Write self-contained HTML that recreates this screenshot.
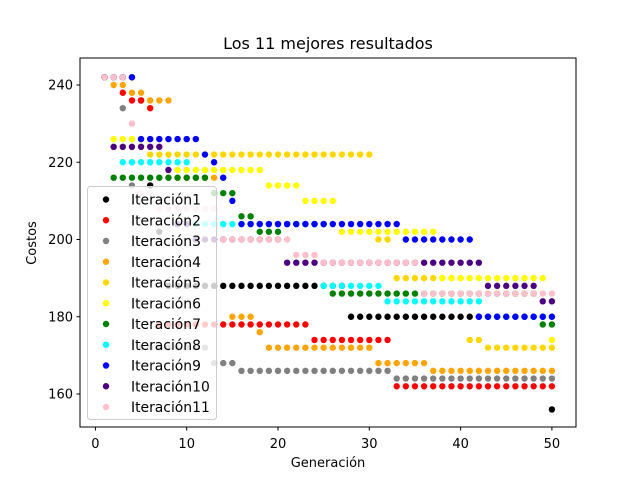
<!DOCTYPE html>
<html><head><meta charset="utf-8"><style>
html,body{margin:0;padding:0;background:#fff;}
svg{display:block;font-family:"DejaVu Sans","Liberation Sans",sans-serif;}
</style></head><body>
<svg id="chart" width="640" height="480" viewBox="0 0 640 480">
<rect x="0" y="0" width="640" height="480" fill="#fff"/>
<text x="328" y="49" font-size="16" text-anchor="middle">Los 11 mejores resultados</text>
<g id="marks"></g>
<rect x="80" y="58" width="496" height="369" fill="none" stroke="#000" stroke-width="1"/>
<g id="axes"></g>
<text x="328" y="467" font-size="13" text-anchor="middle">Generación</text>
<text x="36" y="243" font-size="13" text-anchor="middle" transform="rotate(-90 36 243)">Costos</text>
<g id="legend"></g>
</svg>
<script>
const seriesNames = ["Iteración1","Iteración2","Iteración3","Iteración4","Iteración5","Iteración6","Iteración7","Iteración8","Iteración9","Iteración10","Iteración11"];
const seriesColors = ["#000000","#ff0000","#808080","#ffa500","#ffd700","#ffff00","#008000","#00ffff","#0000ff","#4b0082","#ffc0cb"];
const xTicks = [0,10,20,30,40,50];
const yTicks = [160,180,200,220,240];
const s1 = [242,242,242,242,236,214,202,188,188,188,188,188,188,188,188,188,188,188,188,188,188,188,188,188,188,188,188,180,180,180,180,180,180,180,180,180,180,180,180,180,180,180,180,180,180,180,180,180,180,156];
const s2 = [242,242,238,236,236,234,178,178,178,178,178,178,178,178,178,178,178,178,178,178,178,178,178,174,174,174,174,174,174,174,174,174,162,162,162,162,162,162,162,162,162,162,162,162,162,162,162,162,162,162];
const s3 = [242,242,234,214,172,172,172,172,172,172,172,172,168,168,168,166,166,166,166,166,166,166,166,166,166,166,166,166,166,166,166,166,164,164,164,164,164,164,164,164,164,164,164,164,164,164,164,164,164,164];
const s4 = [242,240,240,238,238,236,236,236,216,216,216,216,216,216,180,180,180,176,172,172,172,172,172,172,172,172,172,172,172,172,168,168,168,168,168,168,166,166,166,166,166,166,166,166,166,166,166,166,166,166];
const s5 = [242,224,224,224,224,222,222,222,222,222,222,222,222,222,222,222,222,222,222,222,222,222,222,222,222,222,222,222,222,222,200,200,190,190,190,190,190,190,190,190,174,174,172,172,172,172,172,172,172,172];
const s6 = [242,226,226,226,226,226,226,226,218,218,218,218,218,218,218,218,218,218,214,214,214,214,210,210,210,210,202,202,202,202,202,202,202,202,202,202,202,190,190,190,190,190,190,190,190,190,190,190,190,174];
const s7 = [242,216,216,216,216,216,216,216,216,216,216,216,212,212,212,206,206,202,202,202,204,204,204,204,204,186,186,186,186,186,186,186,186,186,186,186,186,186,186,186,186,186,186,186,186,186,186,186,178,178];
const s8 = [242,242,220,220,220,220,220,220,220,220,204,204,204,204,204,204,204,204,204,204,204,204,204,204,188,188,188,188,188,188,188,184,184,184,184,184,184,184,184,184,184,184,180,180,180,180,180,180,180,180];
const s9 = [242,242,242,242,226,226,226,226,226,226,226,222,220,216,210,204,204,204,204,204,204,204,204,204,204,204,204,204,204,204,204,204,204,200,200,200,200,200,200,200,200,180,180,180,180,180,180,180,180,180];
const s10 = [242,224,224,224,224,224,224,218,204,204,200,200,200,200,200,200,200,200,200,200,194,194,194,194,194,194,194,194,194,194,194,194,194,194,194,194,194,194,194,194,194,194,188,188,188,188,188,188,184,184];
const s11 = [242,242,242,230,212,212,208,208,208,208,208,208,208,200,200,200,200,200,200,200,200,196,196,196,194,194,194,194,194,194,194,194,194,194,194,186,186,186,186,186,186,186,186,186,186,186,186,186,186,186];
const allSeries = [s1,s2,s3,s4,s5,s6,s7,s8,s9,s10,s11];

const NS = "http://www.w3.org/2000/svg";
function xScale(g){ return 95.4 + g * 9.13; }
function yScale(c){ return 85 + (240 - c) * 3.8625; }

const marks = document.getElementById('marks');
allSeries.forEach(function(vals, si){
  const g = document.createElementNS(NS, 'g');
  
  
  vals.forEach(function(v, i){
    const c = document.createElementNS(NS, 'circle');
    c.setAttribute('cx', xScale(i + 1));
    c.setAttribute('cy', yScale(v));
    c.setAttribute('r', 3.2);
    c.setAttribute('fill', seriesColors[si]);
    
    
    g.appendChild(c);
  });
  marks.appendChild(g);
});

const axes = document.getElementById('axes');
xTicks.forEach(function(t){
  const x = xScale(t);
  const l = document.createElementNS(NS, 'line');
  l.setAttribute('x1', x); l.setAttribute('x2', x);
  l.setAttribute('y1', 427); l.setAttribute('y2', 430.5);
  l.setAttribute('stroke', '#000');
  
  
  axes.appendChild(l);
  const tx = document.createElementNS(NS, 'text');
  tx.setAttribute('x', x); tx.setAttribute('y', 448);
  tx.setAttribute('font-size', '13'); tx.setAttribute('text-anchor', 'middle');
  tx.textContent = t;
  
  
  axes.appendChild(tx);
});
yTicks.forEach(function(t){
  const y = yScale(t);
  const l = document.createElementNS(NS, 'line');
  l.setAttribute('x1', 76.5); l.setAttribute('x2', 80);
  l.setAttribute('y1', y); l.setAttribute('y2', y);
  l.setAttribute('stroke', '#000');
  
  
  axes.appendChild(l);
  const tx = document.createElementNS(NS, 'text');
  tx.setAttribute('x', 73); tx.setAttribute('y', y + 4.5);
  tx.setAttribute('font-size', '13'); tx.setAttribute('text-anchor', 'end');
  tx.textContent = t;
  
  
  axes.appendChild(tx);
});

const legend = document.getElementById('legend');
const box = document.createElementNS(NS, 'rect');
box.setAttribute('x', 87.5); box.setAttribute('y', 186.5);
box.setAttribute('width', 129); box.setAttribute('height', 233);
box.setAttribute('rx', 3);
box.setAttribute('fill', 'rgba(255,255,255,0.8)');
box.setAttribute('stroke', '#cccccc');


legend.appendChild(box);
seriesNames.forEach(function(n, i){
  const y = 199.5 + i * 20.75;
  const c = document.createElementNS(NS, 'circle');
  c.setAttribute('cx', 106); c.setAttribute('cy', y);
  c.setAttribute('r', 3.2); c.setAttribute('fill', seriesColors[i]);
  
  
  legend.appendChild(c);
  const tx = document.createElementNS(NS, 'text');
  tx.setAttribute('x', 131); tx.setAttribute('y', y + 5);
  tx.setAttribute('font-size', '13.9');
  tx.textContent = n;
  
  
  legend.appendChild(tx);
});
</script>
</body></html>
